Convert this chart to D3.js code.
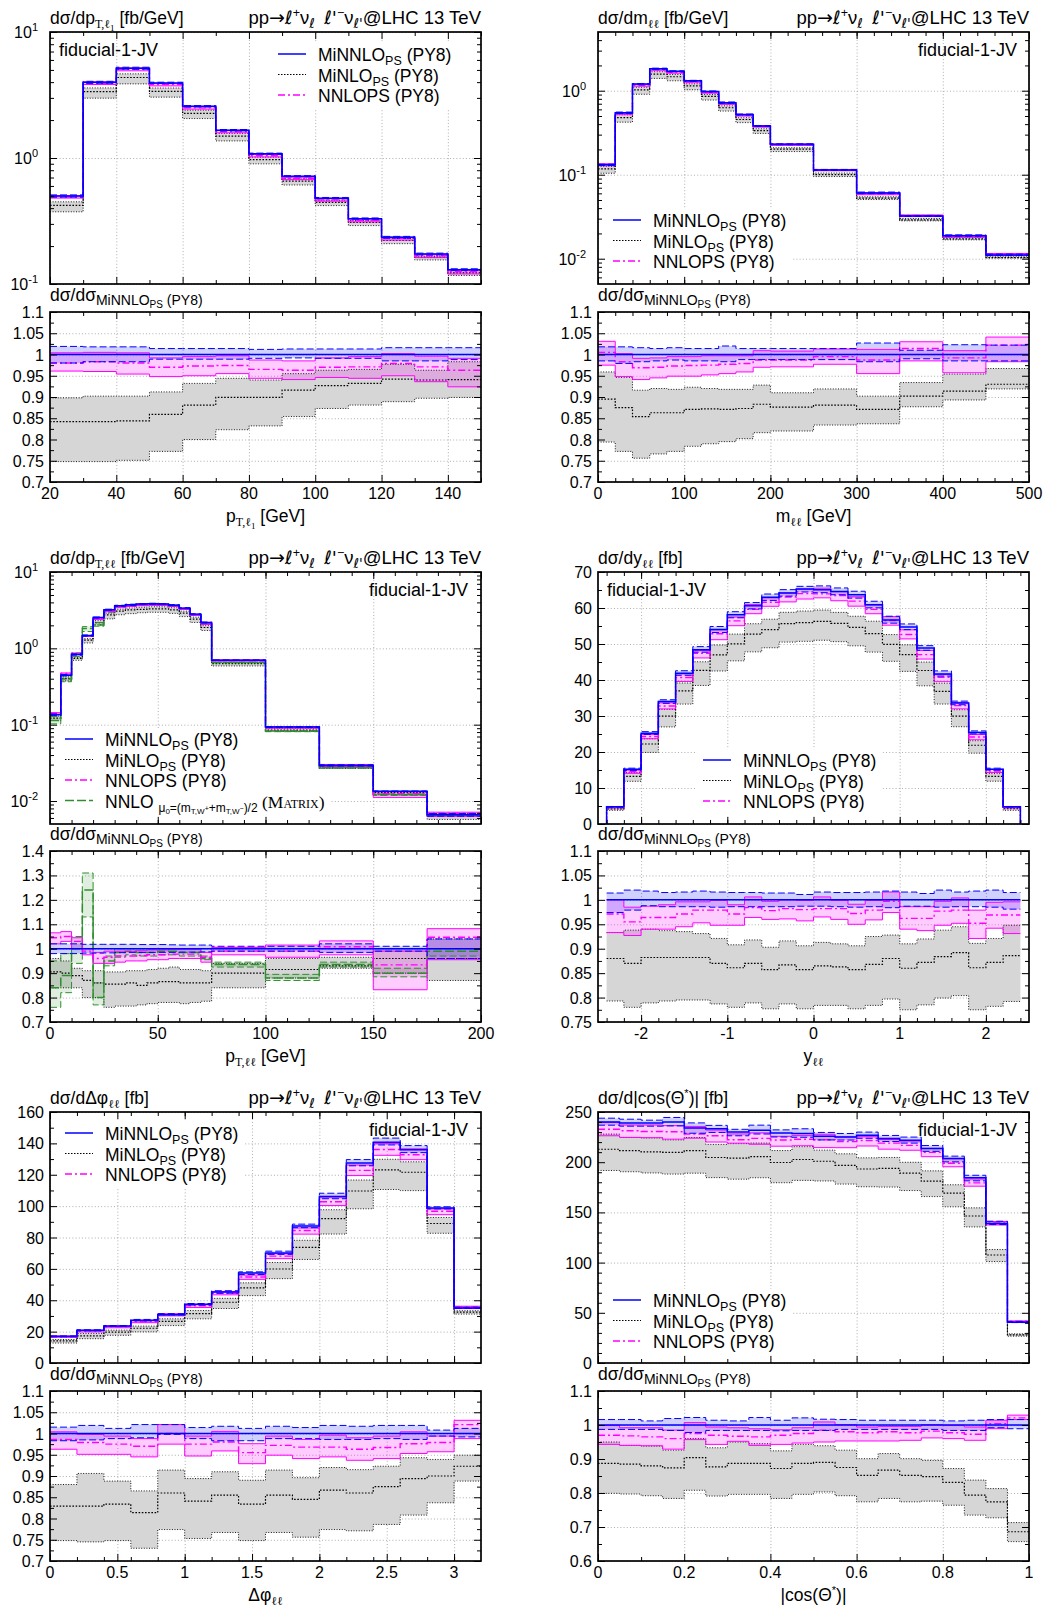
<!DOCTYPE html>
<html><head><meta charset="utf-8">
<script src="https://cdn.jsdelivr.net/npm/d3@7"></script>
<style>
body{margin:0;background:#fff;}
svg{display:block;font-family:"Liberation Sans",Arial,Helvetica,sans-serif;}
text{white-space:pre;}
</style></head><body>
<svg id="chart" width="1060" height="1618"></svg>
<script>
// ===================== DATA =====================
// ---- pT,l1 ----
const ptl1_edges = [20,30,40,50,60,70,80,90,100,110,120,130,140,150];
const ptl1_minnlo = [0.50,3.99,5.16,3.94,2.57,1.66,1.08,0.715,0.48,0.33,0.235,0.173,0.13];
const ptl1_minnlo_hi = [1.019,1.018,1.018,1.014,1.014,1.014,1.012,1.013,1.013,1.013,1.016,1.016,1.016];
const ptl1_minnlo_lo = [0.980,0.983,0.983,0.989,0.989,0.989,0.991,0.992,0.991,0.991,0.985,0.985,0.988];
const ptl1_nnlops_c  = [0.980,0.983,0.980,0.970,0.973,0.974,0.965,0.963,0.970,0.971,0.979,0.971,0.963];
const ptl1_nnlops_hi = [1.004,1.005,1.004,0.992,0.995,0.997,0.987,0.985,0.992,0.995,1.002,0.996,0.991];
const ptl1_nnlops_lo = [0.961,0.960,0.954,0.948,0.950,0.955,0.944,0.941,0.946,0.944,0.950,0.936,0.924];
const ptl1_minlo_c   = [0.842,0.842,0.844,0.859,0.881,0.899,0.899,0.916,0.927,0.932,0.942,0.940,0.941];
const ptl1_minlo_hi  = [0.898,0.902,0.902,0.912,0.932,0.944,0.940,0.955,0.963,0.965,0.977,0.963,0.983];
const ptl1_minlo_lo  = [0.748,0.748,0.751,0.772,0.800,0.823,0.832,0.854,0.873,0.881,0.889,0.897,0.899];

// ---- m_ll ----
const mll_edges = [0,20,40,60,80,100,120,140,160,180,200,250,300,350,400,450,500];
const mll_minnlo = [0.131,0.547,1.20,1.83,1.70,1.31,0.98,0.72,0.52,0.38,0.23,0.114,0.0605,0.0322,0.0188,0.0111];
const mll_minnlo_hi = [1.018,1.018,1.016,1.014,1.016,1.014,1.014,1.020,1.014,1.014,1.014,1.014,1.027,1.010,1.023,1.022];
const mll_minnlo_lo = [0.985,0.979,0.983,0.985,0.987,0.985,0.985,0.983,0.988,0.988,0.988,0.988,0.983,0.990,0.985,0.985];
const mll_nnlops_c  = [1.005,0.983,0.969,0.970,0.973,0.974,0.975,0.977,0.979,0.987,0.987,0.995,0.987,1.014,0.992,1.022];
const mll_nnlops_hi = [1.031,1.002,0.991,0.992,0.995,0.995,0.997,0.997,0.997,1.009,1.008,1.013,1.012,1.030,1.009,1.041];
const mll_nnlops_lo = [0.975,0.948,0.941,0.945,0.949,0.949,0.952,0.955,0.959,0.970,0.971,0.977,0.955,0.985,0.957,0.983];
const mll_minlo_c   = [0.895,0.875,0.854,0.863,0.863,0.871,0.872,0.871,0.873,0.883,0.876,0.881,0.871,0.902,0.914,0.930];
const mll_minlo_hi  = [0.959,0.946,0.916,0.920,0.918,0.923,0.920,0.918,0.918,0.928,0.910,0.919,0.902,0.934,0.954,0.967];
const mll_minlo_lo  = [0.794,0.772,0.756,0.766,0.772,0.784,0.790,0.795,0.802,0.816,0.820,0.834,0.837,0.877,0.893,0.919];

// ---- pT,ll ----
const ptll_edges = [0,5,10,15,20,25,30,35,40,45,50,55,60,65,70,75,100,125,150,175,200];
const ptll_minnlo = [0.135,0.445,0.83,1.47,2.53,3.2,3.6,3.72,3.8,3.83,3.8,3.68,3.36,2.8,2.18,0.70,0.093,0.0292,0.0134,0.0066];
const ptll_minnlo_hi = [1.02,1.02,1.02,1.018,1.018,1.018,1.018,1.018,1.017,1.017,1.017,1.016,1.015,1.015,1.015,1.01,1.01,1.02,1.01,1.04];
const ptll_minnlo_lo = [0.98,0.98,0.98,0.982,0.982,0.983,0.984,0.985,0.985,0.985,0.985,0.985,0.986,0.986,0.987,0.99,0.99,0.985,0.99,0.96];
const ptll_nnlops_c  = [1.045,1.05,1.03,0.99,0.96,0.965,0.97,0.97,0.972,0.975,0.975,0.978,0.978,0.978,0.965,0.99,0.99,1.008,0.934,1.047];
const ptll_nnlops_hi = [1.065,1.07,1.045,1.0,0.985,0.99,0.99,0.99,0.992,0.995,0.995,0.998,0.998,0.998,0.985,1.005,1.015,1.032,0.99,1.082];
const ptll_nnlops_lo = [1.02,1.03,1.0,0.975,0.94,0.94,0.945,0.95,0.95,0.955,0.955,0.96,0.96,0.96,0.945,0.975,0.965,0.975,0.832,0.955];
const ptll_minlo_c   = [0.905,0.9,0.89,0.87,0.86,0.855,0.855,0.86,0.85,0.86,0.865,0.865,0.86,0.86,0.86,0.9,0.915,0.93,0.96,0.96];
const ptll_minlo_hi  = [0.96,0.95,0.92,0.91,0.91,0.905,0.905,0.91,0.91,0.915,0.92,0.925,0.915,0.915,0.91,0.94,0.96,0.965,1.0,1.04];
const ptll_minlo_lo  = [0.84,0.84,0.84,0.8,0.8,0.76,0.765,0.765,0.77,0.775,0.78,0.78,0.775,0.78,0.785,0.84,0.88,0.92,0.9,0.87];
const ptll_nnlo_c    = [0.84,0.89,1.0,1.24,0.8,0.95,0.985,0.99,0.985,0.985,0.99,0.99,0.985,0.985,0.96,0.935,0.88,0.935,0.9,0.99];
const ptll_nnlo_hi   = [0.95,0.98,1.05,1.31,0.86,0.97,1.0,1.0,1.0,1.0,1.0,1.0,1.0,1.0,0.97,0.945,0.895,0.945,0.92,1.0];
const ptll_nnlo_lo   = [0.76,0.82,0.94,1.13,0.77,0.93,0.965,0.975,0.97,0.97,0.975,0.975,0.97,0.97,0.955,0.925,0.87,0.925,0.885,0.97];

// ---- y_ll ----
const yll_edges = [-2.4,-2.2,-2.0,-1.8,-1.6,-1.4,-1.2,-1.0,-0.8,-0.6,-0.4,-0.2,0,0.2,0.4,0.6,0.8,1.0,1.2,1.4,1.6,1.8,2.0,2.2,2.4];
const yll_minnlo = [4.8,15.2,25.2,34.0,41.9,48.4,54.0,58.1,60.6,63.0,64.2,65.3,65.1,64.6,63.7,60.9,56.7,54.7,48.9,41.7,33.6,25.4,15.2,4.8];
const yll_minnlo_hi = [1.014,1.02,1.018,1.015,1.016,1.018,1.016,1.015,1.015,1.014,1.014,1.011,1.016,1.015,1.015,1.016,1.018,1.016,1.013,1.02,1.016,1.018,1.02,1.015];
const yll_minnlo_lo = [0.974,0.979,0.988,0.986,0.986,0.986,0.985,0.986,0.986,0.986,0.986,0.987,0.987,0.986,0.985,0.986,0.984,0.987,0.987,0.985,0.986,0.986,0.985,0.981];
const yll_nnlops_c  = [0.971,0.955,0.964,0.964,0.971,0.979,0.979,0.971,0.984,0.978,0.982,0.98,0.982,0.982,0.972,0.979,0.997,0.962,0.962,0.977,0.979,0.952,0.969,0.969];
const yll_nnlops_hi = [1.0,0.985,0.987,0.99,0.996,0.996,0.999,0.99,1.006,0.997,1.0,0.999,1.006,0.999,0.991,0.999,1.016,0.986,0.986,0.997,1.004,0.979,0.995,0.996];
const yll_nnlops_lo = [0.933,0.927,0.94,0.94,0.945,0.953,0.948,0.948,0.964,0.96,0.961,0.957,0.965,0.96,0.95,0.959,0.974,0.94,0.937,0.948,0.952,0.921,0.942,0.931];
const yll_minlo_c   = [0.88,0.87,0.882,0.882,0.882,0.882,0.87,0.861,0.87,0.857,0.867,0.857,0.865,0.863,0.857,0.868,0.88,0.86,0.872,0.884,0.892,0.861,0.872,0.886];
const yll_minlo_hi  = [0.933,0.938,0.94,0.937,0.935,0.931,0.921,0.908,0.918,0.903,0.916,0.906,0.913,0.91,0.906,0.925,0.928,0.91,0.92,0.938,0.945,0.911,0.921,0.948];
const yll_minlo_lo  = [0.793,0.78,0.789,0.793,0.795,0.795,0.787,0.78,0.789,0.777,0.787,0.777,0.784,0.784,0.777,0.784,0.797,0.775,0.785,0.799,0.804,0.775,0.782,0.792];

// ---- delta phi_ll ----
const dphi_edges = [0,0.2,0.4,0.6,0.8,1.0,1.2,1.4,1.6,1.8,2.0,2.2,2.4,2.6,2.8,3.0,3.2];
const dphi_minnlo = [17,20.8,23.6,27.2,30.8,37.4,45.3,57.4,70.1,87.3,106.2,127.5,140.7,136,98.8,35.1];
const dphi_minnlo_hi = [1.015,1.019,1.012,1.021,1.021,1.014,1.017,1.012,1.017,1.014,1.019,1.017,1.019,1.019,1.008,1.012];
const dphi_minnlo_lo = [0.983,0.985,0.988,0.99,0.998,0.988,0.983,0.983,0.988,0.988,0.986,0.986,0.988,0.986,0.994,0.992];
const dphi_nnlops_c  = [0.986,0.979,0.975,0.97,1.0,0.975,0.98,0.955,0.972,0.968,0.968,0.963,0.967,0.976,0.979,1.021];
const dphi_nnlops_hi = [1.004,0.998,0.994,0.988,1.021,0.994,1.005,0.976,0.994,0.986,0.996,0.99,0.994,1.004,0.994,1.031];
const dphi_nnlops_lo = [0.963,0.951,0.951,0.945,0.975,0.947,0.959,0.929,0.949,0.941,0.945,0.937,0.941,0.953,0.957,0.988];
const dphi_minlo_c   = [0.829,0.829,0.834,0.814,0.86,0.841,0.855,0.834,0.855,0.845,0.867,0.86,0.875,0.894,0.9,0.923];
const dphi_minlo_hi  = [0.88,0.906,0.888,0.865,0.914,0.894,0.91,0.89,0.914,0.896,0.92,0.915,0.923,0.943,0.939,0.949];
const dphi_minlo_lo  = [0.748,0.745,0.748,0.73,0.774,0.753,0.767,0.748,0.767,0.756,0.774,0.771,0.786,0.808,0.837,0.888];

// ---- |cos theta*| ----
const cos_edges = [0,0.05,0.1,0.15,0.2,0.25,0.3,0.35,0.4,0.45,0.5,0.55,0.6,0.65,0.7,0.75,0.8,0.85,0.9,0.95,1.0];
const cos_minnlo = [240,239,239,240,234,233.4,230,231.8,229,228.5,225.8,225,226.8,223.5,221.9,213.6,203.6,184.4,139,40.7];
const cos_minnlo_hi = [1.016,1.016,1.012,1.019,1.022,1.014,1.012,1.022,1.014,1.021,1.017,1.016,1.014,1.014,1.014,1.014,1.012,1.014,1.016,1.016];
const cos_minnlo_lo = [0.987,0.987,0.987,0.984,0.978,0.984,0.984,0.984,0.983,0.984,0.984,0.987,0.987,0.987,0.987,0.987,0.984,0.984,0.992,0.989];
const cos_nnlops_c  = [0.97,0.968,0.965,0.96,0.975,0.97,0.967,0.965,0.97,0.975,0.985,0.98,0.977,0.98,0.977,0.982,0.977,0.973,1.004,1.021];
const cos_nnlops_hi = [0.999,0.992,0.992,0.985,1.007,0.994,0.992,0.989,0.986,0.992,1.009,1.001,0.994,0.996,0.996,1.001,0.999,0.994,1.014,1.029];
const cos_nnlops_lo = [0.943,0.94,0.939,0.929,0.957,0.943,0.952,0.94,0.943,0.947,0.95,0.953,0.953,0.953,0.955,0.962,0.96,0.955,0.989,1.016];
const cos_minlo_c   = [0.887,0.885,0.88,0.874,0.904,0.877,0.887,0.887,0.872,0.887,0.89,0.875,0.852,0.867,0.852,0.848,0.831,0.794,0.774,0.686];
const cos_minlo_hi  = [0.95,0.94,0.938,0.926,0.96,0.933,0.95,0.945,0.924,0.943,0.939,0.926,0.901,0.916,0.901,0.896,0.872,0.838,0.813,0.713];
const cos_minlo_lo  = [0.799,0.797,0.792,0.784,0.808,0.791,0.796,0.796,0.784,0.796,0.803,0.792,0.774,0.784,0.774,0.776,0.764,0.735,0.727,0.657];

// ---- tick labels ----
const ratioTicks_A = [0.7,0.75,0.8,0.85,0.9,0.95,1,1.05,1.1];
const ratioTicks_B = [0.7,0.8,0.9,1,1.1,1.2,1.3,1.4];
const ratioTicks_C = [0.75,0.8,0.85,0.9,0.95,1,1.05,1.1];
const ratioTicks_D = [0.6,0.7,0.8,0.9,1,1.1];
const legendNames = ["MiNNLO","MiNLO","NNLOPS (PY8)"];

// ===================== STYLE / LAYOUT =====================
const SERIF = '"Liberation Serif","Times New Roman",serif';
const DJ = '"DejaVu Sans",sans-serif';
const COLS = [[50,481],[598,1029]];
const ROWS = [[32,284,312,482],[572,824,851,1022],[1112,1363,1391,1561]];
const BLUE="#0000ff", MAG="#ff00ff", GREEN="#2f8f2f";

const svg = d3.select("#chart");
svg.append("rect").attr("width",1060).attr("height",1618).attr("fill","#fff");

function rich(g, x, y, parts, anchor, size){
  const t = g.append("text").attr("x",x).attr("y",y).attr("text-anchor",anchor||"start")
     .attr("font-size",size).attr("fill","#000");
  let cur = 0;
  parts.forEach(p=>{
    const a = (typeof p==="string")?[p]:p;
    const s=a[0], off=a[1]||0, sz=a[2]||size, fam=a[3], extra=a[4];
    const ts = t.append("tspan").text(s).attr("dy", off-cur).attr("font-size", sz);
    if(fam) ts.attr("font-family", fam);
    if(extra) Object.entries(extra).forEach(([k,v])=>ts.style(k,v));
    cur = off;
  });
  return t;
}
const mul = (c,r)=>c.map((v,i)=>v*r[i]);

function stepLine(x,y,edges,vals,drop,base){
  const pts=[];
  if(drop) pts.push([edges[0],base]);
  vals.forEach((v,i)=>{pts.push([edges[i],v]);pts.push([edges[i+1],v]);});
  if(drop) pts.push([edges[edges.length-1],base]);
  return d3.line().x(d=>x(d[0])).y(d=>y(d[1]))(pts);
}
function stepArea(x,y,edges,lo,hi){
  const pts=[];
  lo.forEach((l,i)=>{pts.push([edges[i],l,hi[i]]);pts.push([edges[i+1],l,hi[i]]);});
  return d3.area().x(d=>x(d[0])).y0(d=>y(d[1])).y1(d=>y(d[2]))(pts);
}

let clipId=0;
function drawSeries(g, x, y, edges, S, drop, base){
  const id="clip"+(clipId++);
  const [x0,x1]=x.range(), [yb,yt]=y.range();
  g.append("clipPath").attr("id",id).append("rect").attr("x",x0).attr("y",yt).attr("width",x1-x0).attr("height",yb-yt);
  const L = g.append("g").attr("clip-path",`url(#${id})`);
  L.append("path").attr("d",stepArea(x,y,edges,S.minlo[2],S.minlo[1])).attr("fill","#d6d6d6");
  if(S.nnlo) L.append("path").attr("d",stepArea(x,y,edges,S.nnlo[2],S.nnlo[1])).attr("fill",GREEN).attr("fill-opacity",0.15);
  L.append("path").attr("d",stepArea(x,y,edges,S.nnlops[2],S.nnlops[1])).attr("fill",MAG).attr("fill-opacity",0.2);
  L.append("path").attr("d",stepArea(x,y,edges,S.minnlo[2],S.minnlo[1])).attr("fill",BLUE).attr("fill-opacity",0.18);
  const ln=(vals,col,w,dash,dr)=>L.append("path").attr("d",stepLine(x,y,edges,vals,dr,base))
     .attr("fill","none").attr("stroke",col).attr("stroke-width",w).attr("stroke-dasharray",dash||null);
  ln(S.minlo[1],"#000",0.9,"1,1.6",false); ln(S.minlo[2],"#000",0.9,"1,1.6",false);
  ln(S.minlo[0],"#000",1.2,"1.6,1.6",drop);
  if(S.nnlo){ ln(S.nnlo[1],GREEN,1,"7,3",false); ln(S.nnlo[2],GREEN,1,"7,3",false); ln(S.nnlo[0],GREEN,1.5,"9,3",drop); }
  ln(S.nnlops[1],MAG,1,null,false); ln(S.nnlops[2],MAG,1,null,false);
  ln(S.nnlops[0],MAG,1.4,"7,3,2,3",drop);
  ln(S.minnlo[1],BLUE,1,"7,3",false); ln(S.minnlo[2],BLUE,1,"7,3",false);
  ln(S.minnlo[0],BLUE,1.5,null,drop);
}

function grid(g, x, y, o){
  const [x0,x1]=x.range(), [yb,yt]=y.range();
  const W=x1-x0, H=yb-yt;
  const clean = s=>{s.select(".domain").remove();};
  g.append("g").attr("transform",`translate(0,${yb})`)
   .call(d3.axisBottom(x).tickValues(o.xMajor).tickSize(-H).tickFormat(""))
   .call(clean).call(s=>s.selectAll("line").attr("stroke","#9a9a9a").attr("stroke-width",0.8).attr("stroke-dasharray","1,2.2"));
  g.append("g").attr("transform",`translate(${x0},0)`)
   .call(d3.axisLeft(y).tickValues(o.yMajor).tickSize(-W).tickFormat(""))
   .call(clean).call(s=>s.selectAll("line").attr("stroke","#9a9a9a").attr("stroke-width",0.8).attr("stroke-dasharray","1,2.2"));
}
function ticks(g, x, y, o){
  const [x0,x1]=x.range(), [yb,yt]=y.range();
  const clean = s=>{s.select(".domain").remove(); s.selectAll("line").attr("stroke","#000").attr("stroke-width",1);};
  const mk=(gen,tr,vals,size)=>g.append("g").attr("transform",tr).call(gen.tickValues(vals).tickSize(-size).tickFormat("")).call(clean);
  mk(d3.axisBottom(x),`translate(0,${yb})`,o.xMajor,7);
  mk(d3.axisTop(x),`translate(0,${yt})`,o.xMajor,7);
  mk(d3.axisBottom(x),`translate(0,${yb})`,o.xMinor,4);
  mk(d3.axisTop(x),`translate(0,${yt})`,o.xMinor,4);
  mk(d3.axisLeft(y),`translate(${x0},0)`,o.yMajor,7);
  mk(d3.axisRight(y),`translate(${x1},0)`,o.yMajor,7);
  mk(d3.axisLeft(y),`translate(${x0},0)`,o.yMinor,4);
  mk(d3.axisRight(y),`translate(${x1},0)`,o.yMinor,4);
  g.append("rect").attr("x",x0).attr("y",yt).attr("width",x1-x0).attr("height",yb-yt)
   .attr("fill","none").attr("stroke","#000").attr("stroke-width",1.7);
}
const range=(a,b,s)=>{const r=[];for(let v=a;v<=b+1e-9;v+=s) r.push(+v.toFixed(6));return r;};
function logMinor(lo,hi){const r=[];for(let e=-4;e<=2;e++)for(let k=2;k<=9;k++){const v=k*Math.pow(10,e);if(v>lo*1.0001&&v<hi*0.9999)r.push(v);}return r;}

function legend(gBox, gTxt, lx, ly, entries){
  const sp=20.5;
  let maxEnd=0;
  entries.forEach((e,i)=>{
    const yy=ly+i*sp;
    gTxt.append("line").attr("x1",lx).attr("x2",lx+28).attr("y1",yy-1).attr("y2",yy-1)
      .attr("stroke",e.col).attr("stroke-width",e.w).attr("stroke-dasharray",e.dash||null);
    const t=rich(gTxt,lx+40,yy+6,e.parts,"start",17.5);
    maxEnd=Math.max(maxEnd,lx+40+t.node().getComputedTextLength());
  });
  gBox.append("rect").attr("fill","#fff").attr("x",lx-8).attr("y",ly-12).attr("width",maxEnd-lx+14).attr("height",(entries.length-1)*sp+25);
}
const LEG_MINNLO={col:BLUE,w:1.5,parts:[legendNames[0],["PS",4,12.5],[" (PY8)",0]]};
const LEG_MINLO ={col:"#000",w:1.2,dash:"1.5,1.5",parts:[legendNames[1],["PS",4,12.5],[" (PY8)",0]]};
const LEG_NNLOPS={col:MAG,w:1.4,dash:"7,3,2,3",parts:[legendNames[2]]};
const LEG_NNLO  ={col:GREEN,w:1.5,dash:"9,3",parts:["NNLO ",["μ",4,12],["0",6,8],["=(m",4,12],["T,W",6,8],["+",3,7],["+m",4,12],["T,W",6,8],["−",3,7],[")/2",4,12],[" (",0,17.5,SERIF],["Matrix",0,17.5,SERIF,{"font-variant":"small-caps"}],[")",0,17.5,SERIF]]};

const PROCESS=["pp",["→",0,19,DJ],["ℓ",0,18.5,DJ],["+",-7,12.5],"ν",["ℓ ",4,13.5,DJ],[" ",0],["ℓ'",0,18.5,DJ],["−",-7,12.5],"ν",["ℓ'",4,13.5,DJ],["@LHC 13 TeV",0]];
const RATIO_LABEL=["dσ/dσ",["MiNNLO",4,14],["PS",7,10],[" (PY8)",4,14]];

const panels=[
 {col:0,row:0,edges:ptl1_edges,c:ptl1_minnlo,mn:[ptl1_minnlo_hi,ptl1_minnlo_lo],nl:[ptl1_nnlops_c,ptl1_nnlops_hi,ptl1_nnlops_lo],ml:[ptl1_minlo_c,ptl1_minlo_hi,ptl1_minlo_lo],
  xd:[20,150],xMajor:range(20,140,20),xMinor:range(30,150,20),xFmt:d=>d,
  log:true,yd:[0.1,10],yMain:[0.1,1,10],yLab:[[0.1,"-1"],[1,"0"],[10,"1"]],
  rd:[0.7,1.1],rMajor:ratioTicks_A,rMinor:range(0.725,1.075,0.05),
  title:["dσ/dp",["T,ℓ",4,12,SERIF],["1",7,9,SERIF],[" [fb/GeV]",0]],
  xTitle:["p",["T,ℓ",4,12,SERIF],["1",7,9,SERIF],[" [GeV]",0]],
  fid:{x:59,y:56,anchor:"start"}, leg:{x:278,y:55,e:[LEG_MINNLO,LEG_MINLO,LEG_NNLOPS]}},
 {col:1,row:0,edges:mll_edges,c:mll_minnlo,mn:[mll_minnlo_hi,mll_minnlo_lo],nl:[mll_nnlops_c,mll_nnlops_hi,mll_nnlops_lo],ml:[mll_minlo_c,mll_minlo_hi,mll_minlo_lo],
  xd:[0,500],xMajor:range(0,500,100),xMinor:range(20,480,20),xFmt:d=>d,
  log:true,yd:[0.005,5],yMain:[0.01,0.1,1],yLab:[[0.01,"-2"],[0.1,"-1"],[1,"0"]],
  rd:[0.7,1.1],rMajor:ratioTicks_A,rMinor:range(0.725,1.075,0.05),
  title:["dσ/dm",["ℓℓ",4,12,SERIF],[" [fb/GeV]",0]],
  xTitle:["m",["ℓℓ",4,12,SERIF],[" [GeV]",0]],
  fid:{x:1017,y:56,anchor:"end"}, leg:{x:613,y:221,e:[LEG_MINNLO,LEG_MINLO,LEG_NNLOPS]}},
 {col:0,row:1,edges:ptll_edges,c:ptll_minnlo,mn:[ptll_minnlo_hi,ptll_minnlo_lo],nl:[ptll_nnlops_c,ptll_nnlops_hi,ptll_nnlops_lo],ml:[ptll_minlo_c,ptll_minlo_hi,ptll_minlo_lo],
  nnlo:[ptll_nnlo_c,ptll_nnlo_hi,ptll_nnlo_lo],
  xd:[0,200],xMajor:range(0,200,50),xMinor:range(10,190,10),xFmt:d=>d,
  log:true,yd:[0.005,10],yMain:[0.01,0.1,1,10],yLab:[[0.01,"-2"],[0.1,"-1"],[1,"0"],[10,"1"]],
  rd:[0.7,1.4],rMajor:ratioTicks_B,rMinor:range(0.75,1.35,0.1),
  title:["dσ/dp",["T,ℓℓ",4,12,SERIF],[" [fb/GeV]",0]],
  xTitle:["p",["T,ℓℓ",4,12,SERIF],[" [GeV]",0]],
  fid:{x:468,y:596,anchor:"end"}, leg:{x:65,y:740,e:[LEG_MINNLO,LEG_MINLO,LEG_NNLOPS,LEG_NNLO]}},
 {col:1,row:1,edges:yll_edges,c:yll_minnlo,mn:[yll_minnlo_hi,yll_minnlo_lo],nl:[yll_nnlops_c,yll_nnlops_hi,yll_nnlops_lo],ml:[yll_minlo_c,yll_minlo_hi,yll_minlo_lo],
  xd:[-2.5,2.5],xMajor:[-2,-1,0,1,2],xMinor:range(-2.4,2.4,0.2),xFmt:d=>String(d),drop:true,
  log:false,yd:[0,70],yMain:range(0,70,10),yMinorM:range(5,65,10),
  rd:[0.75,1.1],rMajor:ratioTicks_C,rMinor:range(0.775,1.075,0.05),
  title:["dσ/dy",["ℓℓ",4,12,SERIF],[" [fb]",0]],
  xTitle:["y",["ℓℓ",4,12,SERIF]],
  fid:{x:607,y:596,anchor:"start"}, leg:{x:703,y:761,e:[LEG_MINNLO,LEG_MINLO,LEG_NNLOPS]}},
 {col:0,row:2,edges:dphi_edges,c:dphi_minnlo,mn:[dphi_minnlo_hi,dphi_minnlo_lo],nl:[dphi_nnlops_c,dphi_nnlops_hi,dphi_nnlops_lo],ml:[dphi_minlo_c,dphi_minlo_hi,dphi_minlo_lo],
  xd:[0,3.2],xMajor:range(0,3,0.5),xMinor:range(0.2,3.0,0.2),xFmt:d=>String(d),
  log:false,yd:[0,160],yMain:range(0,160,20),yMinorM:range(10,150,20),
  rd:[0.7,1.1],rMajor:ratioTicks_A,rMinor:range(0.725,1.075,0.05),
  title:["dσ/dΔφ",["ℓℓ",4,12,SERIF],[" [fb]",0]],
  xTitle:["Δφ",["ℓℓ",4,12,SERIF]],
  fid:{x:468,y:1136,anchor:"end"}, leg:{x:65,y:1134,e:[LEG_MINNLO,LEG_MINLO,LEG_NNLOPS]}},
 {col:1,row:2,edges:cos_edges,c:cos_minnlo,mn:[cos_minnlo_hi,cos_minnlo_lo],nl:[cos_nnlops_c,cos_nnlops_hi,cos_nnlops_lo],ml:[cos_minlo_c,cos_minlo_hi,cos_minlo_lo],
  xd:[0,1],xMajor:range(0,1,0.2),xMinor:range(0.1,0.9,0.2),xFmt:d=>String(d),
  log:false,yd:[0,250],yMain:range(0,250,50),yMinorM:range(10,240,10).filter(v=>v%50!==0),
  rd:[0.6,1.1],rMajor:ratioTicks_D,rMinor:range(0.65,1.05,0.1),
  title:["dσ/d|cos(Θ",["*",-7,11],[")| [fb]",0]],
  xTitle:["|cos(Θ",["*",-7,11],[")|",0]],
  fid:{x:1017,y:1136,anchor:"end"}, leg:{x:613,y:1301,e:[LEG_MINNLO,LEG_MINLO,LEG_NNLOPS]}}
];

panels.forEach(p=>{
  const [x0,x1]=COLS[p.col], [m0,m1,r0,r1]=ROWS[p.row];
  const g=svg.append("g");
  const gGrid=g.append("g"), gBox=g.append("g"), gData=g.append("g"), gFrame=g.append("g"), gTxt=g.append("g");
  const x=d3.scaleLinear().domain(p.xd).range([x0,x1]);
  const yM=(p.log?d3.scaleLog():d3.scaleLinear()).domain(p.yd).range([m1,m0]);
  const yR=d3.scaleLinear().domain(p.rd).range([r1,r0]);
  const base=p.yd[0];
  const c=p.c;
  const S={minnlo:[c,mul(c,p.mn[0]),mul(c,p.mn[1])],
           minlo:[mul(c,p.ml[0]),mul(c,p.ml[1]),mul(c,p.ml[2])],
           nnlops:[mul(c,p.nl[0]),mul(c,p.nl[1]),mul(c,p.nl[2])]};
  if(p.nnlo) S.nnlo=[mul(c,p.nnlo[0]),mul(c,p.nnlo[1]),mul(c,p.nnlo[2])];
  const ones=c.map(()=>1);
  const R={minnlo:[ones,p.mn[0],p.mn[1]],minlo:p.ml,nnlops:p.nl};
  if(p.nnlo) R.nnlo=p.nnlo;

  grid(gGrid,x,yM,{xMajor:p.xMajor,yMajor:p.yMain});
  drawSeries(gData,x,yM,p.edges,S,!!p.drop,base);
  ticks(gFrame,x,yM,{xMajor:p.xMajor,xMinor:p.xMinor,yMajor:p.yMain,yMinor:p.log?logMinor(p.yd[0],p.yd[1]):p.yMinorM});
  grid(gGrid,x,yR,{xMajor:p.xMajor,yMajor:p.rMajor});
  drawSeries(gData,x,yR,p.edges,R,false,p.rd[0]);
  ticks(gFrame,x,yR,{xMajor:p.xMajor,xMinor:p.xMinor,yMajor:p.rMajor,yMinor:p.rMinor});

  if(p.log){
    p.yLab.forEach(([v,e])=>rich(gTxt,x0-12,yM(v)+6,["10",[e,-7,11]],"end",16));
  } else {
    p.yMain.forEach(v=>gTxt.append("text").attr("x",x0-6).attr("y",yM(v)+6).attr("text-anchor","end").attr("font-size",16).text(v));
  }
  p.rMajor.forEach(v=>gTxt.append("text").attr("x",x0-6).attr("y",yR(v)+6).attr("text-anchor","end").attr("font-size",16).text(String(+v.toFixed(2))));
  p.xMajor.forEach(v=>gTxt.append("text").attr("x",x(v)).attr("y",r1+17).attr("text-anchor","middle").attr("font-size",16).text(p.xFmt(v)));
  rich(gTxt,x0,m0-8,p.title,"start",17.5);
  rich(gTxt,x1,m0-8,PROCESS,"end",18.5);
  rich(gTxt,x0,r0-11,RATIO_LABEL,"start",17.5);
  rich(gTxt,(x0+x1)/2,r1+40,p.xTitle,"middle",17.5);
  gTxt.append("text").attr("x",p.fid.x).attr("y",p.fid.y).attr("text-anchor",p.fid.anchor).attr("font-size",18).text("fiducial-1-JV");
  legend(gBox,gTxt,p.leg.x,p.leg.y,p.leg.e);
});
</script></body></html>
